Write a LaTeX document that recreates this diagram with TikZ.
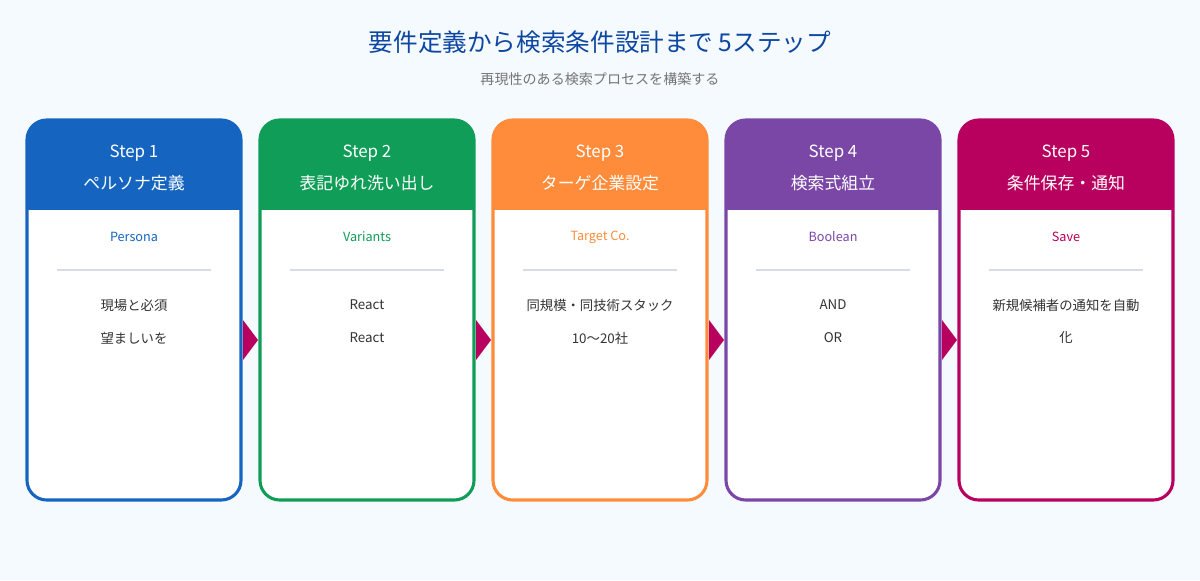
\documentclass[tikz,border=0pt]{standalone}
\usepackage{fontspec}
\setmainfont{Noto Sans CJK JP}
\usetikzlibrary{positioning}
\definecolor{bgc}{HTML}{F5FAFF}
\definecolor{titlec}{HTML}{0D47A1}
\definecolor{subc}{HTML}{757575}
\definecolor{textc}{HTML}{333333}
\definecolor{linec}{HTML}{D5DCE5}
\definecolor{cA}{HTML}{1565C0}
\definecolor{cB}{HTML}{0F9D58}
\definecolor{cC}{HTML}{FF8C3A}
\definecolor{cD}{HTML}{7B47A6}
\definecolor{cE}{HTML}{B8005E}
\tikzset{
  steptitle/.style={text=white, font=\fontsize{12}{14}\selectfont},
  stepkey/.style={font=\fontsize{9}{11}\selectfont},
  stepbody/.style={text=textc, font=\fontsize{9.5}{12}\selectfont},
}
\begin{document}
\begin{tikzpicture}[x=0.025cm, y=-0.025cm]
\fill[bgc] (0,0) rectangle (1200,580);
\useasboundingbox (0,0) rectangle (1200,580);
\node[text=titlec, font=\fontsize{17.5}{20}\selectfont] (title) at (600,42) {要件定義から検索条件設計まで 5ステップ};
\node[text=subc, font=\fontsize{10}{12}\selectfont] (sub) at (600,79) {再現性のある検索プロセスを構築する};
\foreach \i/\c/\n/\t/\k/\la/\lb in {
  1/cA/Step 1/ペルソナ定義/Persona/現場と必須/望ましいを/分けて整理,
  2/cB/Step 2/表記ゆれ洗い出し/Variants/React/React/JS等ORで並列,
  3/cC/Step 3/ターゲ企業設定/Target Co./同規模・同技術スタック/10〜20社,
  4/cD/Step 4/検索式組立/Boolean/AND/OR/NOT//括弧で要件を再現,
  5/cE/Step 5/条件保存・通知/Save/新規候補者の通知を自動/化}{
  \pgfmathsetmacro{\xl}{27+(\i-1)*233}
  \pgfmathsetmacro{\xc}{\xl+107}
  \begin{scope}
    \clip[rounded corners=14] (\xl,120) rectangle ++(214,380);
    \fill[white] (\xl,120) rectangle ++(214,380);
    \fill[\c] (\xl,120) rectangle ++(214,90);
  \end{scope}
  \draw[\c, line width=2.2pt, rounded corners=14] (\xl,120) rectangle ++(214,380);
  \node[steptitle] (s\i) at (\xc,153) {\n};
  \node[steptitle] (t\i) at (\xc,183) {\t};
  \node[stepkey, text=\c] (k\i) at (\xc,237) {\k};
  \draw[linec, line width=1pt] (\xc-77,270) -- (\xc+77,270);
  \node[stepbody] (a\i) at (\xc,305) {\la};
  \node[stepbody] (b\i) at (\xc,338) {\lb};
}
% connectors
\foreach \i in {1,...,4}{
  \pgfmathsetmacro{\xa}{243+(\i-1)*233}
  \coordinate (p\i) at (\xa,320);
  \fill[cE] (p\i) -- ++(15,20) -- ++(-15,20) -- cycle;
}
\end{tikzpicture}
\end{document}
